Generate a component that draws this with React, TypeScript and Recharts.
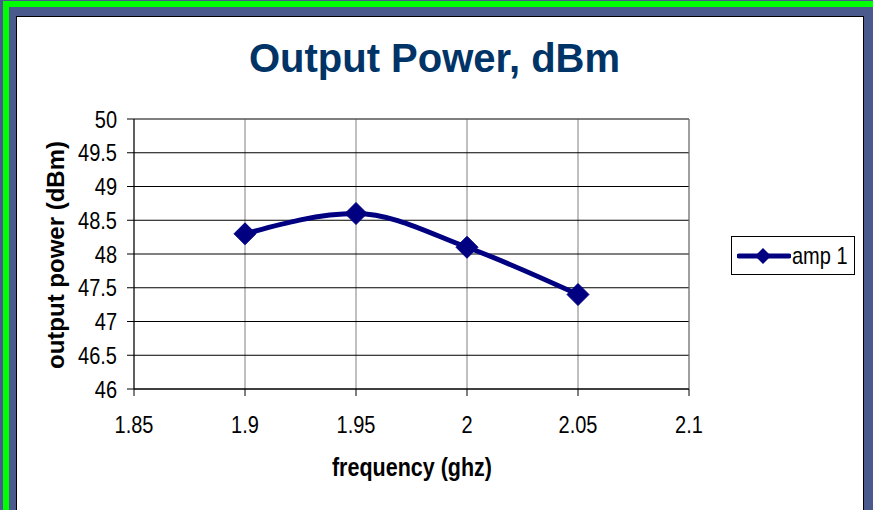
import { LineChart, Line, XAxis, YAxis, CartesianGrid, ReferenceLine } from 'recharts'

const frequencies = [1.9, 1.95, 2, 2.05]
const amp1 = [48.3, 48.6, 48.1, 47.4]
const xTicks = [1.85, 1.9, 1.95, 2, 2.05, 2.1]
const yTicks = [46, 46.5, 47, 47.5, 48, 48.5, 49, 49.5, 50]

const data = frequencies.map((f, i) => ({ freq: f, amp1: amp1[i] }))

const NAVY = '#000080'
const sans = '"Liberation Sans", Arial, sans-serif'
// the chart text in the original is stretched vertically a bit
const STRETCH = 1.2

const Diamond = (props: any) => {
  const { cx, cy } = props
  if (cx == null || cy == null) return null
  const r = 11
  return (
    <polygon
      points={`${cx},${cy - r} ${cx + r},${cy} ${cx},${cy + r} ${cx - r},${cy}`}
      fill={NAVY}
      stroke={NAVY}
    />
  )
}

const XTick = (props: any) => {
  const { x, y, payload } = props
  return (
    <g transform={`translate(${x},${y}) scale(1,${STRETCH})`}>
      <text x={0} y={30.8} textAnchor="middle" fontFamily={sans} fontSize={20} fill="#000">
        {String(payload.value)}
      </text>
    </g>
  )
}

const YTick = (props: any) => {
  const { x, y, payload } = props
  return (
    <g transform={`translate(${x},${y}) scale(1,${STRETCH})`}>
      <text x={0} y={7.1} textAnchor="end" fontFamily={sans} fontSize={20} fill="#000">
        {String(payload.value)}
      </text>
    </g>
  )
}

export default function App() {
  return (
    <div style={{ position: 'fixed', left: 0, top: 0, width: 873, height: 510, background: '#4a5a8c', overflow: 'hidden' }}>
      {/* green slide frame */}
      <div style={{ position: 'absolute', left: 3, top: 1, width: 870, height: 509, borderTop: '6px solid #00ff00', borderLeft: '6px solid #00ff00', boxSizing: 'border-box' }} />
      {/* white panel */}
      <div style={{ position: 'absolute', left: 16, top: 16, width: 848, height: 520, background: '#fff', border: '1px solid #000', boxSizing: 'border-box' }} />

      <div style={{ position: 'absolute', left: 0, top: 38, width: 869, textAlign: 'center', fontFamily: sans, fontWeight: 'bold', fontSize: 40, lineHeight: '40px', color: '#003366' }}>
        Output Power, dBm
      </div>

      <div style={{ position: 'absolute', left: 0, top: 0 }}>
        <LineChart width={873} height={510} data={data} margin={{ top: 119, right: 184, bottom: 81, left: 0 }}>
          <CartesianGrid horizontal={false} stroke="#808080" />
          <CartesianGrid vertical={false} stroke="#000" />
          <ReferenceLine y={50} stroke="#808080" />
          <ReferenceLine x={2.1} stroke="#808080" />
          <XAxis
            dataKey="freq"
            type="number"
            domain={[1.85, 2.1]}
            ticks={xTicks}
            interval={0}
            height={40}
            tick={<XTick />}
            tickSize={7}
            tickMargin={0}
            stroke="#000"
          />
          <YAxis
            type="number"
            domain={[46, 50]}
            ticks={yTicks}
            interval={0}
            width={134}
            tick={<YTick />}
            tickSize={7}
            tickMargin={10}
            stroke="#000"
          />
          <Line
            type="monotone"
            dataKey="amp1"
            stroke={NAVY}
            strokeWidth={5}
            dot={<Diamond />}
            activeDot={false}
            isAnimationActive={false}
          />
        </LineChart>
      </div>

      <div style={{ position: 'absolute', left: 56, top: 255, transform: 'translate(-50%, -50%) rotate(-90deg)', whiteSpace: 'nowrap', fontFamily: sans, fontWeight: 'bold', fontSize: 24, lineHeight: '24px', color: '#000' }}>
        output power (dBm)
      </div>

      <div style={{ position: 'absolute', left: 412, top: 457, transform: `translateX(-50%) scaleY(${STRETCH})`, whiteSpace: 'nowrap', fontFamily: sans, fontWeight: 'bold', fontSize: 21.5, lineHeight: '22px', color: '#000' }}>
        frequency (ghz)
      </div>

      {/* legend */}
      <div style={{ position: 'absolute', left: 731, top: 236, width: 124, height: 39, border: '1px solid #000', boxSizing: 'border-box', background: '#fff', display: 'flex', alignItems: 'center', whiteSpace: 'nowrap' }}>
        <svg width={54} height={24} style={{ marginLeft: 5, flex: 'none' }}>
          <line x1={2} y1={12} x2={52} y2={12} stroke={NAVY} strokeWidth={5} strokeLinecap="round" />
          <polygon points="26,4 34,12 26,20 18,12" fill={NAVY} />
        </svg>
        <span style={{ display: 'inline-block', fontFamily: sans, fontSize: 20, lineHeight: '20px', color: '#000', marginLeft: 1, transform: `scaleY(${STRETCH})` }}>amp 1</span>
      </div>
    </div>
  )
}
